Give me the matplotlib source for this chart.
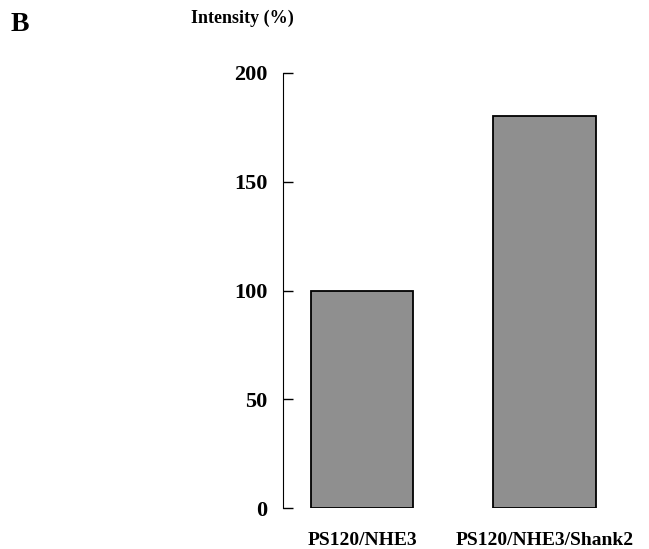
import matplotlib.pyplot as plt

categories = ['PS120/NHE3', 'PS120/NHE3/Shank2']
intensity = [100, 180]
yticks = [0, 50, 100, 150, 200]

plt.rcParams['font.family'] = ['Liberation Serif', 'DejaVu Serif']
plt.rcParams['font.weight'] = 'bold'

fig = plt.figure(figsize=(6.49, 5.49), dpi=100)
ax = fig.add_axes([283/649, 41/549, 340/649, 435/549])

x = range(len(categories))
ax.bar(x, intensity, width=0.56, color='#8f8f8f', edgecolor='black', linewidth=1.3)

ax.set_xlim(-0.433, 1.43)
ax.set_ylim(0, 200)
ax.set_yticks(yticks)
ax.set_xticks(list(x))
ax.set_xticklabels(categories, fontsize=14, fontweight='bold')
ax.tick_params(axis='y', direction='in', length=7, width=1, labelsize=16, pad=11)
ax.tick_params(axis='x', length=0, pad=17)
for lab in ax.get_yticklabels():
    lab.set_fontweight('bold')

ax.spines['top'].set_visible(False)
ax.spines['right'].set_visible(False)
ax.spines['bottom'].set_visible(False)

fig.text(0.017, 0.955, 'B', fontsize=20, fontweight='bold', va='center')
fig.text(0.373, 0.966, 'Intensity (%)', fontsize=13, fontweight='bold',
         va='center', ha='center')

fig.savefig('out.png', dpi=100)
